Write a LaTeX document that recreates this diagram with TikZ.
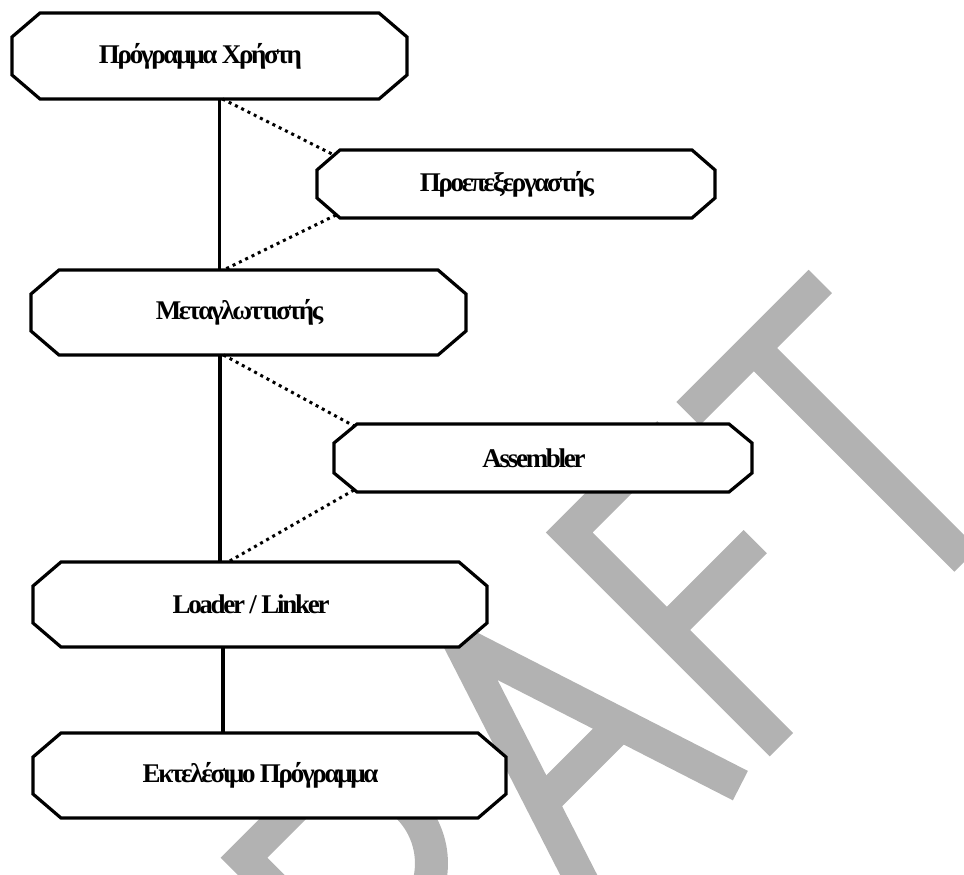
\documentclass[tikz,border=0pt]{standalone}
\usepackage{fontspec}
\setmainfont{Liberation Serif}
\newfontfamily\boxfont[LetterSpace=-8.5]{Liberation Serif}
\usetikzlibrary{backgrounds}

\tikzset{
    box/.style={rectangle, draw=none, inner sep=0pt, outer sep=0pt},
    boxlabel/.style={font=\boxfont\bfseries\fontsize{27}{30}\selectfont, xshift=-9pt},
    boxline/.style={fill=white, draw=black, line width=3.2pt, line join=miter},
    link/.style={line width=3.4pt},
    dotlink/.style={line width=3pt, dash pattern=on 3pt off 4pt},
    draftstroke/.style={draw=black!30, line width=33pt, line join=miter},
}

% octagon outline round a box node: node, cut across, cut down
\newcommand\chamferbox[3]{%
    \filldraw[boxline] ([xshift=#2]#1.north west) -- ([xshift=-#2]#1.north east)
        -- ([yshift=-#3]#1.north east) -- ([yshift=#3]#1.south east)
        -- ([xshift=-#2]#1.south east) -- ([xshift=#2]#1.south west)
        -- ([yshift=#3]#1.south west) -- ([yshift=-#3]#1.north west) -- cycle;}

\begin{document}
\begin{tikzpicture}[x=1pt, y=1pt]
    \useasboundingbox (0,0) rectangle (964,-875);

    % watermark
    \begin{scope}[on background layer]
        \clip (0,0) rectangle (964,-875);
        \begin{scope}[shift={(763,-763)}, rotate=45]
            \draw[draftstroke] (-434,0) -- (-434,300) -- (-362,300)
                arc[start angle=90, end angle=-90, radius=80] -- (-434,140);
            \draw[draftstroke] (-380,140) -- (-250,0);
            \draw[draftstroke] (-226,0) -- (-129,300) -- (-32,0);
            \draw[draftstroke] (-185,128) -- (-73,128);
            \draw[draftstroke] (26,0) -- (26,300) -- (167,300);
            \draw[draftstroke] (26,162) -- (151,162);
            \draw[draftstroke] (194,300) -- (381,300);
            \draw[draftstroke] (287,300) -- (287,0);
        \end{scope}
    \end{scope}

    \node[box, minimum width=395pt, minimum height=86pt,
        label={[boxlabel]center:Πρόγραμμα Χρήστη}] (prog) at (209.5,-56) {};
    \node[box, minimum width=398pt, minimum height=68pt,
        label={[boxlabel]center:Προεπεξεργαστής}] (pre) at (516,-184) {};
    \node[box, minimum width=435pt, minimum height=85pt,
        label={[boxlabel]center:Μεταγλωττιστής}] (comp) at (248.5,-312.5) {};
    \node[box, minimum width=418pt, minimum height=68pt,
        label={[boxlabel]center:Assembler}] (asm) at (543,-458) {};
    \node[box, minimum width=454pt, minimum height=85pt,
        label={[boxlabel]center:Loader / Linker}] (load) at (260,-604.5) {};
    \node[box, minimum width=473pt, minimum height=85pt,
        label={[boxlabel]center:Εκτελέσιμο Πρόγραμμα}] (exec) at (269.5,-775.5) {};

    \begin{scope}[on background layer]
        \chamferbox{prog}{28pt}{24pt}
        \chamferbox{pre}{23pt}{20pt}
        \chamferbox{comp}{28pt}{24pt}
        \chamferbox{asm}{23pt}{19pt}
        \chamferbox{load}{28pt}{24pt}
        \chamferbox{exec}{28pt}{24pt}
    \end{scope}

    \draw[link] ([xshift=10pt]prog.south) -- ([xshift=10pt]prog.south |- comp.north);
    \draw[link] ([xshift=-28.5pt]comp.south) -- ([xshift=-28.5pt]comp.south |- load.north);
    \draw[link] ([xshift=-37pt]load.south) -- ([xshift=-37pt]load.south |- exec.north);

    \draw[dotlink] ([xshift=13pt]prog.south) -- ([shift={(17pt,-5pt)}]pre.north west);
    \draw[dotlink] ([shift={(19pt,3pt)}]pre.south west) -- ([xshift=-25pt]comp.north);
    \draw[dotlink] ([xshift=-25pt]comp.south) -- ([shift={(20pt,-2pt)}]asm.north west);
    \draw[dotlink] ([shift={(20pt,2pt)}]asm.south west) -- ([xshift=-32pt]load.north);
\end{tikzpicture}
\end{document}
